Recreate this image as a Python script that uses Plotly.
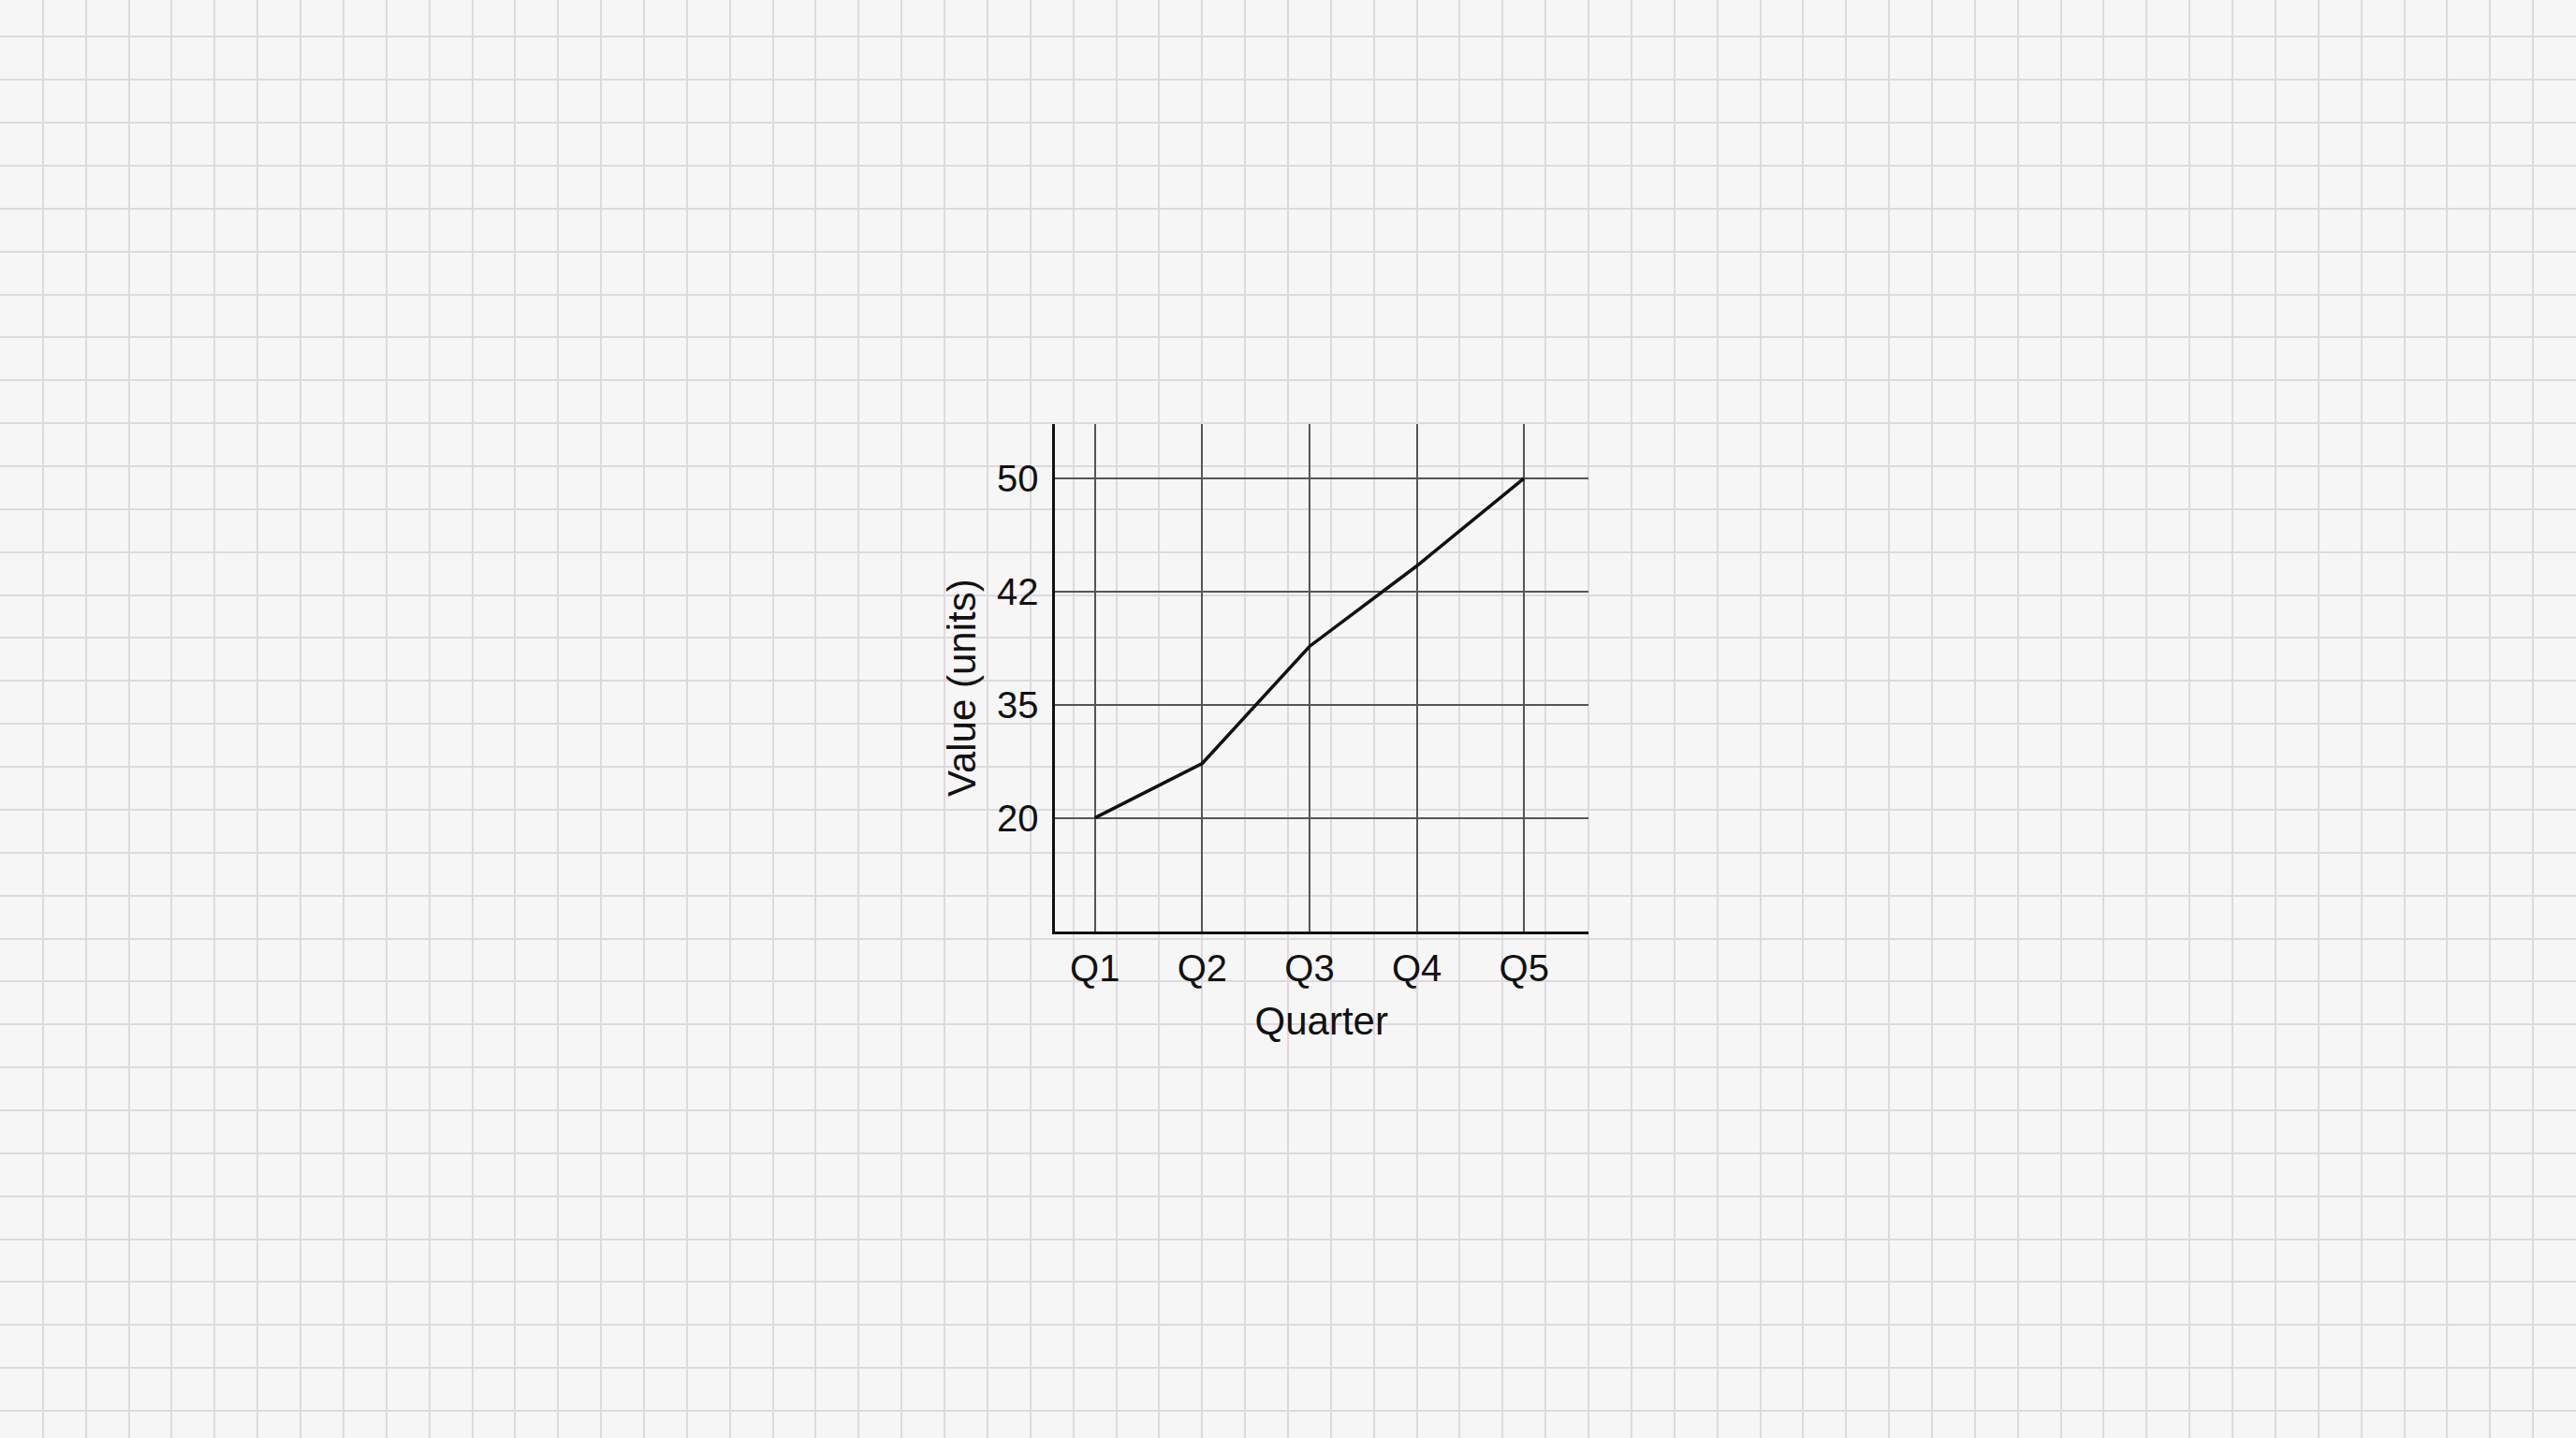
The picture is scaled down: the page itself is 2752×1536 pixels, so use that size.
import numpy as np
import plotly.graph_objects as go

# ---- data ----
quarters = ["Q1", "Q2", "Q3", "Q4", "Q5"]
values = [20, 27.2, 38.6, 43.8, 50]
y_tick_values = [20, 35, 42, 50]
y_tick_labels = ["20", "35", "42", "50"]
x_title = "Quarter"
y_title = "Value (units)"

# ---- page geometry ----
W, H = 2752, 1536
cell = W / 60.0

# y axis: tick labels are equally spaced, values placed piecewise between them
tick_pos = list(range(len(y_tick_values)))
y_pos = np.interp(values, y_tick_values, tick_pos)

FONT = "Liberation Sans, Arial, sans-serif"
INK = "#111111"

fig = go.Figure()

# background graph-paper subplot (full page)
fig.add_trace(go.Scatter(x=[None], y=[None], xaxis="x", yaxis="y",
                         showlegend=False, hoverinfo="skip"))

# main line
fig.add_trace(go.Scatter(x=quarters, y=y_pos, xaxis="x2", yaxis="y2",
                         mode="lines", line=dict(color=INK, width=3.5),
                         showlegend=False, hoverinfo="skip"))

fig.update_layout(
    width=W, height=H,
    margin=dict(l=0, r=0, t=0, b=0),
    paper_bgcolor="#f6f6f6",
    plot_bgcolor="rgba(0,0,0,0)",
    font=dict(family=FONT, color=INK, size=40),
    showlegend=False,
    xaxis=dict(domain=[0, 1], anchor="y", type="linear", range=[0, W],
               tick0=0, dtick=cell, showgrid=True, gridcolor="#dfd9df",
               gridwidth=1.5, showticklabels=False, zeroline=False,
               showline=False, ticks=""),
    yaxis=dict(domain=[0, 1], anchor="x", type="linear", range=[H, 0],
               tick0=39.3, dtick=cell, showgrid=True, gridcolor="#dfd9df",
               gridwidth=1.5, showticklabels=False, zeroline=False,
               showline=False, ticks=""),
    xaxis2=dict(domain=[1126.5 / W, 1697.0 / W], anchor="y2", type="category",
                range=[-0.377, 4.6], showgrid=True, gridcolor="#555555",
                gridwidth=2, showline=True, linecolor=INK, linewidth=3,
                zeroline=False, ticks="", ticklabelstandoff=2,
                tickfont=dict(size=40, family=FONT, color=INK),
                title=dict(text=x_title, font=dict(size=42, family=FONT, color=INK),
                           standoff=22)),
    yaxis2=dict(domain=[1 - 994.5 / H, 1 - 453.0 / H], anchor="x2", type="linear",
                range=[-1, 3.478], tickvals=tick_pos, ticktext=y_tick_labels,
                showgrid=True, gridcolor="#555555", gridwidth=2,
                showline=True, linecolor=INK, linewidth=3, zeroline=False,
                ticks="", ticklabelstandoff=6,
                tickfont=dict(size=40, family=FONT, color=INK)),
    annotations=[dict(text=y_title, textangle=-90, xref="paper", yref="paper",
                      x=1027 / W, y=1 - 735 / H, xanchor="center", yanchor="middle",
                      showarrow=False, font=dict(size=42, family=FONT, color=INK))],
)

fig.write_html("out.html",
               config={"displayModeBar": False},
               post_script="document.body.style.margin='0';"
                           "document.body.style.overflow='hidden';")
